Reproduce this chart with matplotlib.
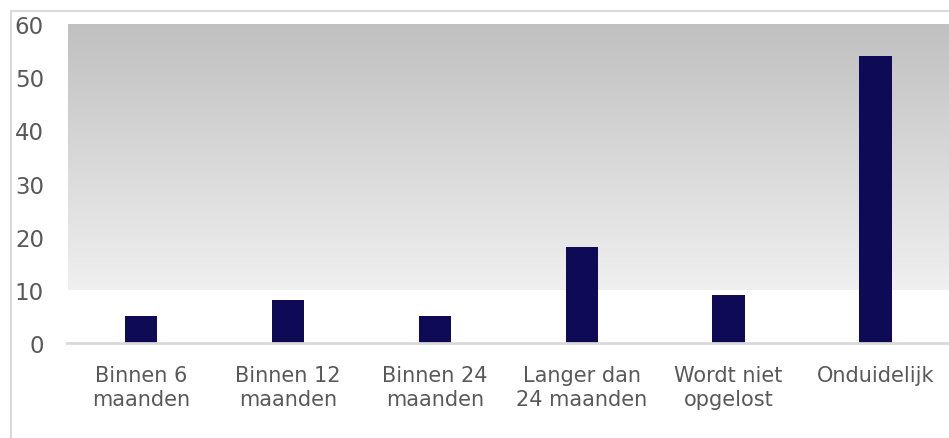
import matplotlib.pyplot as plt
import numpy as np
from matplotlib.patches import Rectangle

categories = ["Binnen 6\nmaanden", "Binnen 12\nmaanden", "Binnen 24\nmaanden",
              "Langer dan\n24 maanden", "Wordt niet\nopgelost", "Onduidelijk"]
values = [5, 8, 5, 18, 9, 54]
yticks = [0, 10, 20, 30, 40, 50, 60]

W, H = 949, 439
fig = plt.figure(figsize=(W / 100, H / 100), dpi=100)

# outer frame of the chart
fig.patches.append(Rectangle((11 / W, -0.1), 1.2, (439 - 12) / H + 0.1,
                             transform=fig.transFigure, fill=False,
                             edgecolor="#d9d9d9", linewidth=1.5))

ax = fig.add_axes([67.5 / W, (H - 344) / H, (949 - 67.5) / W, (344 - 25) / H])
x = np.arange(len(categories))

# gradient band from 10 to 60 (dark on top)
grad = np.linspace(0.753, 0.94, 256).reshape(-1, 1)
ax.imshow(np.dstack([grad, grad, grad]), extent=[-0.5, 5.5, 10, 60],
          aspect="auto", zorder=0, interpolation="bilinear")

ax.bar(x, values, width=0.22, color="#0e0a55", zorder=2)

ax.set_xlim(-0.5, 5.5)
ax.set_ylim(0, 60)
ax.set_yticks(yticks)
ax.set_xticks(x)
ax.set_xticklabels(categories, fontsize=15, color="#595959", linespacing=1.25)
ax.tick_params(axis="y", length=0, pad=17, labelsize=16.5, labelcolor="#595959")
ax.tick_params(axis="x", length=0, pad=16)

for s in ["top", "right", "left"]:
    ax.spines[s].set_visible(False)
ax.spines["bottom"].set_color("#d9d9d9")
ax.spines["bottom"].set_linewidth(2)
ax.spines["bottom"].set_zorder(3)

fig.savefig("out.png", dpi=100)
